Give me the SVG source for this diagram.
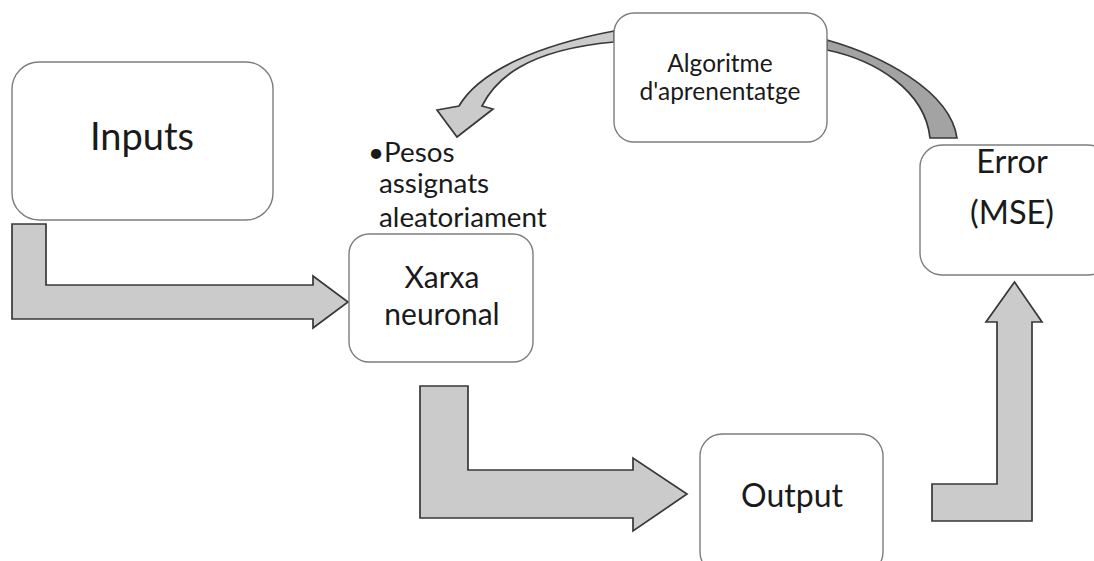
<svg xmlns="http://www.w3.org/2000/svg" width="1094" height="561" viewBox="0 0 1094 561">
  <style>
    .box { fill: #ffffff; stroke: #7d7d7d; stroke-width: 1.4; }
    .label { font-family: Lato, "Open Sans", "Liberation Sans", sans-serif; fill: #1a1a1a; text-anchor: middle; }
    .note { font-family: Lato, "Open Sans", "Liberation Sans", sans-serif; fill: #1a1a1a; font-size: 27.8px; }
    .flow { fill: #cbcbcb; stroke: #383838; stroke-width: 1.7; stroke-linejoin: miter; }
    .back { fill: #a3a3a3; stroke: #383838; stroke-width: 1.7; }
  </style>

  <!-- connectors -->
  <g id="connectors">
    <!-- Inputs to neural network -->
    <polygon class="flow" points="12,224 46,224 46,285 313,285 313,276 348,302 313,328 313,319 12,319"/>
    <!-- neural network to output -->
    <polygon class="flow" points="420,386 468,386 468,470 633,470 633,458 687,494 633,531 633,518 420,518"/>
    <!-- output up to error -->
    <polygon class="flow" points="932,521 1032,521 1032,322 1042,322 1014.5,282 986,322 997,322 997,484 932,484"/>
    <!-- curved feedback: back face from the error box -->
    <path class="back" d="M 827 40 C 880 55, 950 90, 957 138 L 930 138 C 925 90, 875 60, 827 50 Z"/>
    <!-- curved feedback: front face down to the weights -->
    <path class="flow" d="M 614 31 C 540 45, 480 70, 459 106 L 437 110 L 457 137 L 493 109 L 482 106 C 495 80, 525 50, 614 42 Z"/>
  </g>

  <g id="node-inputs">
    <rect class="box" x="12" y="62" width="261" height="158" rx="27" ry="27"/>
    <text class="label" x="142" y="150" font-size="38">Inputs</text>
  </g>

  <g id="node-xarxa">
    <rect class="box" x="349" y="234" width="184" height="128" rx="20" ry="20"/>
    <text class="label" x="442" y="288" font-size="30">Xarxa</text>
    <text class="label" x="442" y="325" font-size="30">neuronal</text>
  </g>

  <g id="node-pesos">
    <text class="note" x="368" y="162">•Pesos</text>
    <text class="note" x="379" y="193">assignats</text>
    <text class="note" x="379" y="227">aleatoriament</text>
  </g>

  <g id="node-algoritme">
    <rect class="box" x="614" y="13" width="213" height="129" rx="20" ry="20"/>
    <text class="label" x="720" y="72" font-size="24.5">Algoritme</text>
    <text class="label" x="720" y="100" font-size="24.5">d'aprenentatge</text>
  </g>

  <g id="node-output">
    <rect class="box" x="700" y="434" width="183" height="140" rx="22" ry="22"/>
    <text class="label" x="792" y="507" font-size="32">Output</text>
  </g>

  <g id="node-error">
    <rect class="box" x="920" y="145" width="190" height="130" rx="22" ry="22"/>
    <text class="label" x="1012" y="173" font-size="32.5">Error</text>
    <text class="label" x="1012" y="224" font-size="32.5">(MSE)</text>
  </g>
</svg>
